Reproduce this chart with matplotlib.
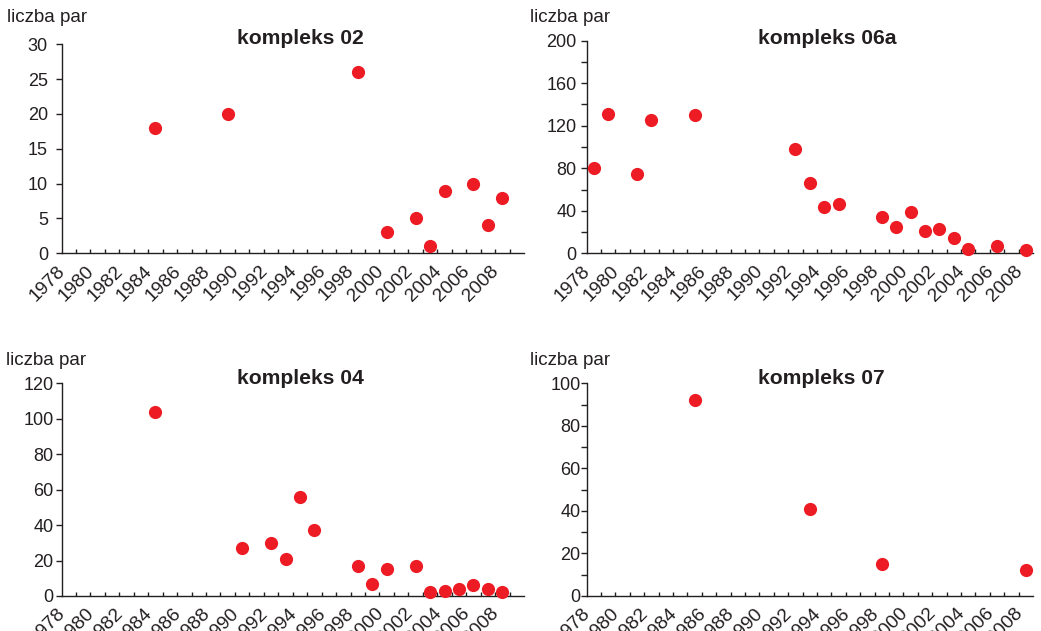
import numpy as np
import matplotlib
matplotlib.use('Agg')
import matplotlib.pyplot as plt

plt.rcParams['font.family'] = ['Liberation Sans', 'DejaVu Sans']

# dane: lata i liczba par dla kazdego kompleksu
lata_02 = [1984, 1989, 1998, 2000, 2002, 2003, 2004, 2006, 2007, 2008]
pary_02 = [18, 20, 26, 3, 5, 1, 9, 10, 4, 8]

lata_06a = [1978, 1979, 1981, 1982, 1985, 1992, 1993, 1994, 1995,
            1998, 1999, 2000, 2001, 2002, 2003, 2004, 2006, 2008]
pary_06a = [80, 131, 75, 125, 130, 98, 66, 44, 46,
            34, 25, 39, 21, 23, 14, 4, 7, 3]

lata_04 = [1984, 1990, 1992, 1993, 1994, 1995, 1998, 1999, 2000,
           2002, 2003, 2004, 2005, 2006, 2007, 2008]
pary_04 = [104, 27, 30, 21, 56, 37, 17, 7, 15,
           17, 2, 3, 4, 6, 4, 2]

lata_07 = [1985, 1993, 1998, 2008]
pary_07 = [92, 41, 15, 12]

etykiety_lat = list(range(1978, 2009, 2))

W, H = 1041, 631
KOLOR_TEKSTU = '#231f20'
CZERWONY = '#ed1c24'


def box_px(left, top, right, bottom):
    # pozycja osi w pikselach -> ulamki figury
    return [left / W, 1 - bottom / H, (right - left) / W, (bottom - top) / H]


def rysuj_panel(fig, box, lata, pary, ymax, major, minor, rok_max, pad_y):
    ax = fig.add_axes(box)
    ax.plot(lata, pary, 'o', color=CZERWONY, markersize=9.5,
            markeredgewidth=0, clip_on=False, zorder=3)
    ax.set_xlim(1977.5, rok_max + 0.5)
    ax.set_ylim(0, ymax)

    for s in ['top', 'right']:
        ax.spines[s].set_visible(False)
    for s in ['left', 'bottom']:
        ax.spines[s].set_color(KOLOR_TEKSTU)
        ax.spines[s].set_linewidth(1.0)

    # os X: kreski miedzy latami, podpisy co 2 lata
    ax.set_xticks(etykiety_lat)
    ax.set_xticklabels([str(r) for r in etykiety_lat], rotation=45,
                       ha='right', fontsize=13.8, color=KOLOR_TEKSTU)
    ax.set_xticks(np.arange(1978.5, rok_max + 0.5, 1), minor=True)
    ax.tick_params(axis='x', which='major', length=0, pad=6.5)
    ax.tick_params(axis='x', which='minor', direction='in', length=3.2,
                   width=1.0, color=KOLOR_TEKSTU)

    # os Y
    ax.set_yticks(np.arange(0, ymax + 1, major))
    if minor:
        ax.set_yticks(np.arange(0, ymax + 1, minor), minor=True)
    ax.tick_params(axis='y', which='both', direction='out', length=4,
                   width=1.0, color=KOLOR_TEKSTU, labelsize=13,
                   labelcolor=KOLOR_TEKSTU, pad=pad_y)
    return ax


def napis(fig, x, y, tekst, **kw):
    fig.text(x / W, 1 - y / H, tekst, va='baseline', color=KOLOR_TEKSTU, **kw)


def wykres():
    fig = plt.figure(figsize=(W / 100, H / 100), dpi=100)

    rysuj_panel(fig, box_px(61.5, 44.3, 524, 253.3), lata_02, pary_02,
                30, 5, None, 2009, 5.8)
    rysuj_panel(fig, box_px(586.7, 40.7, 1033, 253.3), lata_06a, pary_06a,
                200, 40, 20, 2008, 3.2)
    rysuj_panel(fig, box_px(61.5, 383.3, 524, 596), lata_04, pary_04,
                120, 20, None, 2009, 1.8)
    rysuj_panel(fig, box_px(586.7, 383.3, 1033, 596), lata_07, pary_07,
                100, 20, 10, 2008, 0.3)

    # tytuly paneli
    napis(fig, 300, 44.3, 'kompleks 02', ha='center', fontsize=15.2,
          fontweight='bold')
    napis(fig, 827.5, 44.3, 'kompleks 06a', ha='center', fontsize=15.2,
          fontweight='bold')
    napis(fig, 300.5, 384, 'kompleks 04', ha='center', fontsize=15.2,
          fontweight='bold')
    napis(fig, 821.5, 384, 'kompleks 07', ha='center', fontsize=15.2,
          fontweight='bold')

    # opis osi Y
    for x, y in [(7.3, 21.7), (530, 22), (6, 365.3), (530, 365.3)]:
        napis(fig, x, y, 'liczba par', ha='left', fontsize=13.5)

    plt.savefig('out.png', dpi=100, facecolor='white')


if __name__ == '__main__':
    wykres()
